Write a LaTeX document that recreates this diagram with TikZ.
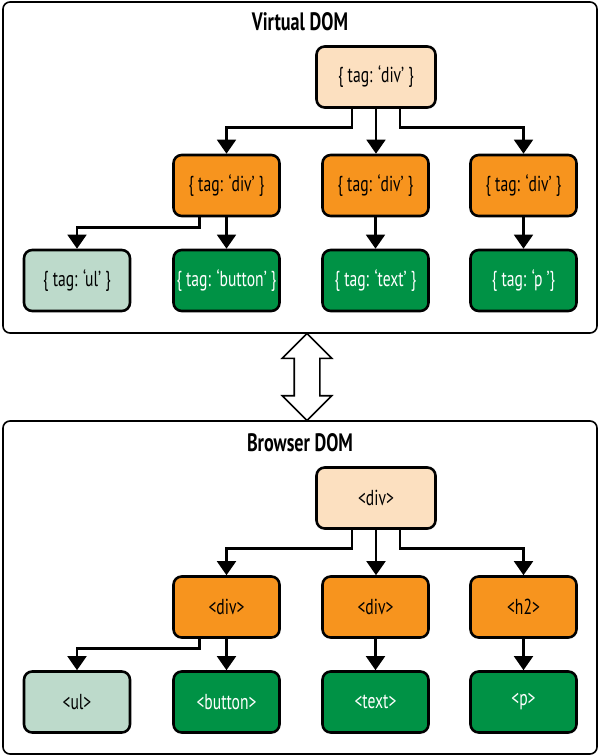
\documentclass[tikz,border=0pt]{standalone}
\usepackage{fontspec}
\setmainfont[FakeStretch=0.72]{PT Sans}
\usetikzlibrary{arrows.meta,calc,shapes.arrows}

\definecolor{peach}{RGB}{252,224,192}
\definecolor{orng}{RGB}{247,148,30}
\definecolor{pale}{RGB}{189,218,203}
\definecolor{grn}{RGB}{0,146,69}

\tikzset{
	frame/.style={draw, line width=1.4pt, rounded corners=6pt},
	title/.style={font=\bfseries\fontsize{21.5}{23}\selectfont},
	box/.style={draw, line width=2.2pt, rounded corners=7pt, minimum width=3.18cm,
		minimum height=1.83cm, inner sep=1pt, font=\fontsize{18.5}{20}\selectfont},
	rootbox/.style={box, fill=peach, minimum width=3.57cm},
	divbox/.style={box, fill=orng},
	ulbox/.style={box, fill=pale},
	leafbox/.style={box, fill=grn, text=white},
	arr/.style={line width=2.4pt, -{Triangle[length=0.42cm, width=0.56cm]}}
}

\begin{document}
\begin{tikzpicture}[x=0.03cm, y=-0.03cm]
		\useasboundingbox (0,0) rectangle (600,756);
		% outer frames
		\draw[frame] (3,2) rectangle (597,333);
		\draw[frame] (3,421) rectangle (597,754);
		\node[title] (vtitle) at (300,22) {Virtual DOM};
		\node[title] (btitle) at (300,443) {Browser DOM};
		\node[draw, line width=1.3pt, fill=white, double arrow, rotate=90, minimum height=2.61cm,
			minimum width=1.44cm, inner sep=0.36cm, double arrow head extend=0.36cm] (swap) at (307,377) {};

		% virtual DOM
		\node[rootbox] (vroot) at (376,77) {\{ tag: `div' \}};
		\node[divbox] (vdivA) at (226.5,185.5) {\{ tag: `div' \}};
		\node[divbox] (vdivB) at (375.5,185.5) {\{ tag: `div' \}};
		\node[divbox] (vdivC) at (523.5,185.5) {\{ tag: `div' \}};
		\node[ulbox] (vul) at (77,280.5) {\{ tag: `ul' \}};
		\node[leafbox] (vbutton) at (226.5,280.5) {\{ tag: `button' \}};
		\node[leafbox] (vtext) at (375.5,280.5) {\{ tag: `text' \}};
		\node[leafbox] (vp) at (523.5,280.5) {\{ tag: `p '\}};
		\draw[arr] ($(vroot.south)+(-24,0)$) -- ++(0,19) -| (vdivA);
		\draw[arr] (vroot.south) -- (vroot.south |- vdivB.north);
		\draw[arr] ($(vroot.south)+(24,0)$) -- ++(0,19) -| (vdivC);
		\draw[arr] ($(vdivA.south)+(-27,0)$) -- ++(0,10) -| (vul);
		\draw[arr] (vdivA) -- (vbutton);
		\draw[arr] (vdivB) -- (vtext);
		\draw[arr] (vdivC) -- (vp);

		% browser DOM
		\node[rootbox] (broot) at (376,498) {<div>};
		\node[divbox] (bdivA) at (226.5,607) {<div>};
		\node[divbox] (bdivB) at (375.5,607) {<div>};
		\node[divbox] (bh) at (523.5,607) {<h2>};
		\node[ulbox] (bul) at (77,702) {<ul>};
		\node[leafbox] (bbutton) at (226.5,702) {<button>};
		\node[leafbox] (btext) at (375.5,702) {<text>};
		\node[leafbox] (bp) at (523.5,702) {<p>};
		\draw[arr] ($(broot.south)+(-24,0)$) -- ++(0,19) -| (bdivA);
		\draw[arr] (broot.south) -- (broot.south |- bdivB.north);
		\draw[arr] ($(broot.south)+(24,0)$) -- ++(0,19) -| (bh);
		\draw[arr] ($(bdivA.south)+(-27,0)$) -- ++(0,10) -| (bul);
		\draw[arr] (bdivA) -- (bbutton);
		\draw[arr] (bdivB) -- (btext);
		\draw[arr] (bh) -- (bp);
	\end{tikzpicture}
\end{document}
